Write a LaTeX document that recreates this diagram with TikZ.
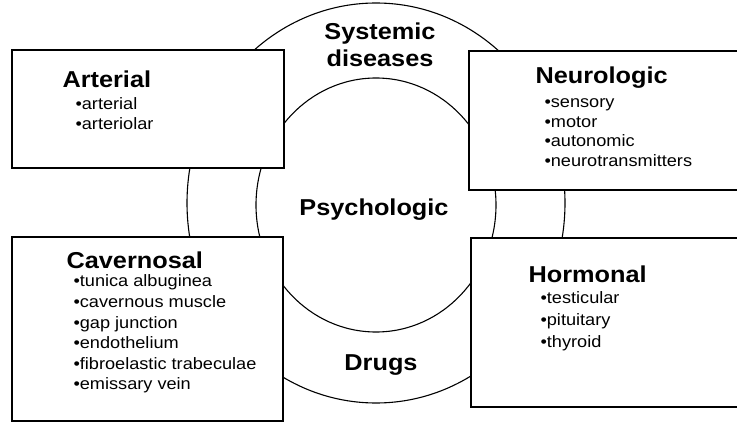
\documentclass[tikz,border=0pt]{standalone}
\usepackage{fontspec}
\setmainfont{Liberation Sans}[FakeStretch=1.1]
\usetikzlibrary{positioning}

\begin{document}
\begin{tikzpicture}[x=1pt,y=-1pt,line width=1.1pt,
	title/.style={font=\fontsize{23}{26.5}\selectfont\bfseries,inner sep=0pt,anchor=base west},
	ringtext/.style={font=\fontsize{23}{26.5}\selectfont\bfseries,inner sep=0pt,align=center},
	item/.style={font=\fontsize{16.5}{20}\selectfont,inner sep=0pt,anchor=base west},
	box/.style={draw,fill=white}]
\useasboundingbox (0,0) rectangle (737,425);

\draw (376,203) ellipse [x radius=189pt,y radius=200pt];
\draw (376,205) ellipse [x radius=120pt,y radius=127pt];

\draw[box] (12,50) rectangle (284,168);
\draw[box] (469,51) rectangle (745,190);
\draw[box] (12,237) rectangle (283,421);
\draw[box] (471,238) rectangle (745,407);

\node[ringtext] (sys) at (380,45) {Systemic\\diseases};
\node[ringtext,anchor=base] (psy) at (374,216) {Psychologic};
\node[ringtext,anchor=base] (drg) at (381,370) {Drugs};

\node[title] (art) at (62,88) {Arterial};
\node[item] (art1) at (75,110) {•arterial};
\node[item] (art2) at (75,130) {•arteriolar};

\node[title] (neu) at (535,84) {Neurologic};
\node[item] (neu1) at (544,107.5) {•sensory};
\node[item] (neu2) at (544,127.5) {•motor};
\node[item] (neu3) at (544,146.5) {•autonomic};
\node[item] (neu4) at (544,166.5) {•neurotransmitters};

\node[title] (cav) at (66,268) {Cavernosal};
\node[item] (cav1) at (73,287) {•tunica albuginea};
\node[item] (cav2) at (73,307.5) {•cavernous muscle};
\node[item] (cav3) at (73,328) {•gap junction};
\node[item] (cav4) at (73,348.5) {•endothelium};
\node[item] (cav5) at (73,369) {•fibroelastic trabeculae};
\node[item] (cav6) at (73,389) {•emissary vein};

\node[title] (hor) at (528,282) {Hormonal};
\node[item] (hor1) at (540,303) {•testicular};
\node[item] (hor2) at (540,325) {•pituitary};
\node[item] (hor3) at (540,347) {•thyroid};

\end{tikzpicture}
\end{document}
